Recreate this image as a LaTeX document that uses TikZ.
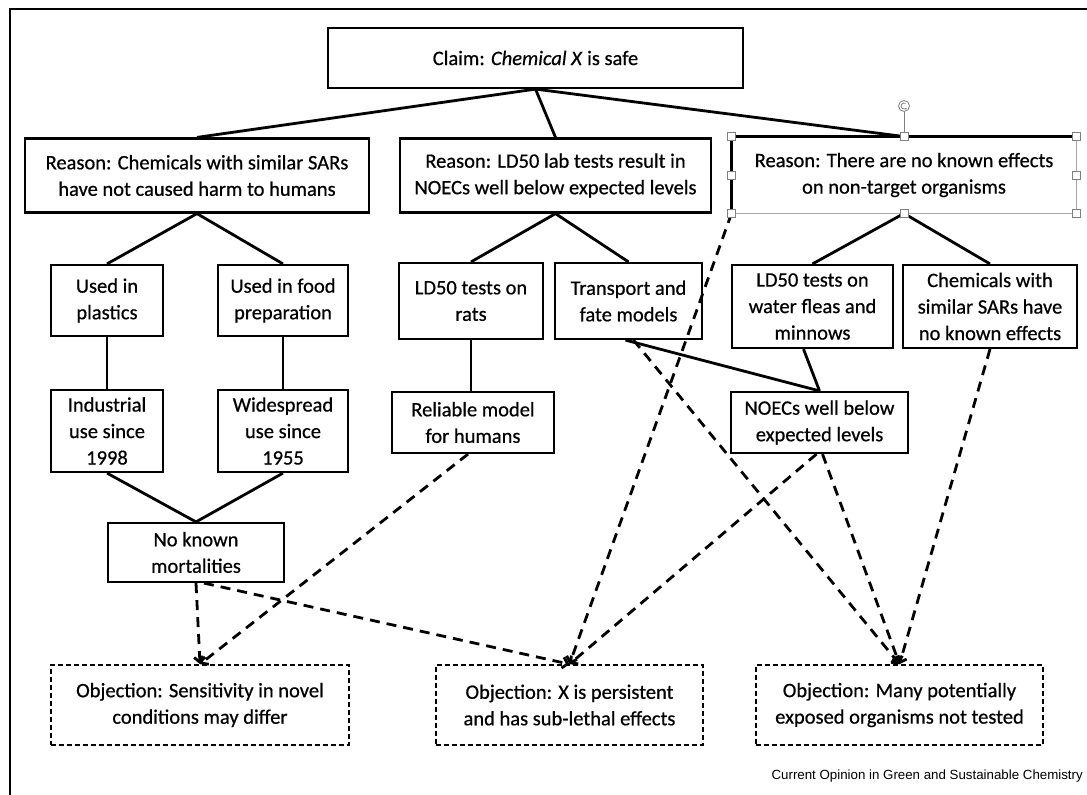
\documentclass[tikz,border=0pt]{standalone}
\usepackage{fontspec}
\setmainfont{Carlito}
\newfontfamily\boxfont{Carlito}[FakeBold=0.6]
\newfontfamily\creditfont{Liberation Sans}
\usetikzlibrary{arrows.meta}
\tikzstyle{box} = [draw, line width=2.2pt, align=center, inner sep=0pt, font=\boxfont\fontsize{20.5}{26.5}\selectfont]
\tikzstyle{objbox} = [box, line width=1.7pt, dash pattern=on 5pt off 3pt]
\tikzstyle{link} = [line width=2.8pt]
\tikzstyle{objarrow} = [line width=2.8pt, dash pattern=on 10pt off 7pt, -{Straight Barb[length=5pt, width=11pt]}]
\tikzstyle{handle} = [draw=gray, fill=white, line width=0.8pt, minimum size=8pt, inner sep=0pt]

\begin{document}
\begin{tikzpicture}[x=1pt, y=-1pt]
    \useasboundingbox (0,0) rectangle (1087,795);
    % Frame
    \draw[line width=1.5pt] (10,795) -- (10,9) -- (1087,9);

    % Claim
    \node[box, minimum width=415pt, minimum height=60pt] (claim) at (535.5, 58) {Claim: \textit{Chemical X} is safe};

    % Reasons
    \node[box, minimum width=344pt, minimum height=74pt] (r1) at (197, 175.5) {Reason: Chemicals with similar SARs\\have not caused harm to humans};
    \node[box, minimum width=311pt, minimum height=74pt] (r2) at (555.5, 175.5) {Reason: LD50 lab tests result in\\NOECs well below expected levels};
    \node[box, draw=gray!70, line width=0.9pt, minimum width=344pt, minimum height=76pt] (r3) at (904, 175) {Reason: There are no known effects\\on non-target organisms};

    % Supports, left branch
    \node[box, minimum width=112pt, minimum height=71pt] (plast) at (107, 300.5) {Used in\\plastics};
    \node[box, minimum width=130pt, minimum height=71pt] (food) at (283, 300.5) {Used in food\\preparation};
    \node[box, minimum width=112pt, minimum height=82pt] (indus) at (107, 431) {Industrial\\use since\\1998};
    \node[box, minimum width=130pt, minimum height=82pt] (wide) at (283, 431) {Widespread\\use since\\1955};
    \node[box, minimum width=176pt, minimum height=59pt] (nomort) at (196, 552.5) {No known\\mortalities};

    % Supports, middle branch
    \node[box, minimum width=144pt, minimum height=76pt] (rats) at (471, 301) {LD50 tests on\\rats};
    \node[box, minimum width=147pt, minimum height=76pt] (transp) at (628.5, 301) {Transport and\\fate models};
    \node[box, minimum width=162pt, minimum height=61pt] (reli) at (473, 422.5) {Reliable model\\for humans};

    % Supports, right branch
    \node[box, minimum width=161pt, minimum height=83pt] (fleas) at (812.5, 306.5) {LD50 tests on\\water fleas and\\minnows};
    \node[box, minimum width=174pt, minimum height=83pt] (chsar) at (990, 306.5) {Chemicals with\\similar SARs have\\no known effects};
    \node[box, minimum width=177pt, minimum height=61pt] (noec) at (819.5, 422.5) {NOECs well below\\expected levels};

    % Objections
    \node[objbox, minimum width=298pt, minimum height=80pt] (obj1) at (200, 705) {Objection: Sensitivity in novel\\conditions may differ};
    \node[objbox, minimum width=267pt, minimum height=80pt] (obj2) at (569.5, 705) {Objection: X is persistent\\and has sub-lethal effects};
    \node[objbox, minimum width=287pt, minimum height=80pt] (obj3) at (899.5, 705) {Objection: Many potentially\\exposed organisms not tested};

    % Support links
    \draw[link] (r1.north) -- (claim.south) -- (r3.north);
    \draw[link] (claim.south) -- (r2.north);
    \draw[link] (plast.north) -- (r1.south) -- (food.north);
    \draw[link] (plast.south) -- (indus.north);
    \draw[link] (food.south) -- (wide.north);
    \draw[link] (indus.south) -- (nomort.north) -- (wide.south);
    \draw[link] (rats.north) -- (r2.south) -- (transp.north);
    \draw[link] (rats.south) -- (rats.south |- reli.north);
    \draw[link] (fleas.north) -- (r3.south) -- (chsar.north);
    \draw[link] ([xshift=-9pt]fleas.south) -- (noec.north);
    \draw[link] ([xshift=-3pt]transp.south) -- (noec.north);

    % Objection links
    \draw[objarrow] ([xshift=-5pt]reli.south) -- (obj1.north);
    \draw[objarrow] (nomort.south) -- (obj1.north);
    \draw[objarrow] ([xshift=8pt]nomort.south) -- (obj2.north);
    \draw[objarrow] (r3.south west) -- (obj2.north);
    \draw[objarrow] ([xshift=-3pt]noec.south) -- (obj2.north);
    \draw[objarrow] ([xshift=5pt]transp.south) -- (obj3.north);
    \draw[objarrow] ([xshift=3pt]noec.south) -- (obj3.north);
    \draw[objarrow] (chsar.south) -- (obj3.north);

    % Selection frame on the third reason
    \draw[line width=2.2pt] (r3.south west) -- (r3.north west) -- (r3.north east);
    \node[draw=gray, line width=0.8pt, circle, minimum size=11pt, inner sep=0pt] (rot) at (904, 106) {};
    \draw[gray, line width=0.8pt] (rot.south) -- (r3.north);
    \draw[gray, line width=0.8pt, -{Stealth[length=2pt]}] ([shift={(60:3pt)}]rot.center) arc[start angle=60, end angle=330, radius=3pt];
    \foreach \a [count=\i] in {north west, north, north east, east, south east, south, south west, west}
        \node[handle] (h\i) at (r3.\a) {};

    % Credit
    \node[anchor=east, font=\creditfont\fontsize{13.3}{15}\selectfont, inner sep=0pt] (credit) at (1083, 776) {Current Opinion in Green and Sustainable Chemistry};
\end{tikzpicture}
\end{document}
